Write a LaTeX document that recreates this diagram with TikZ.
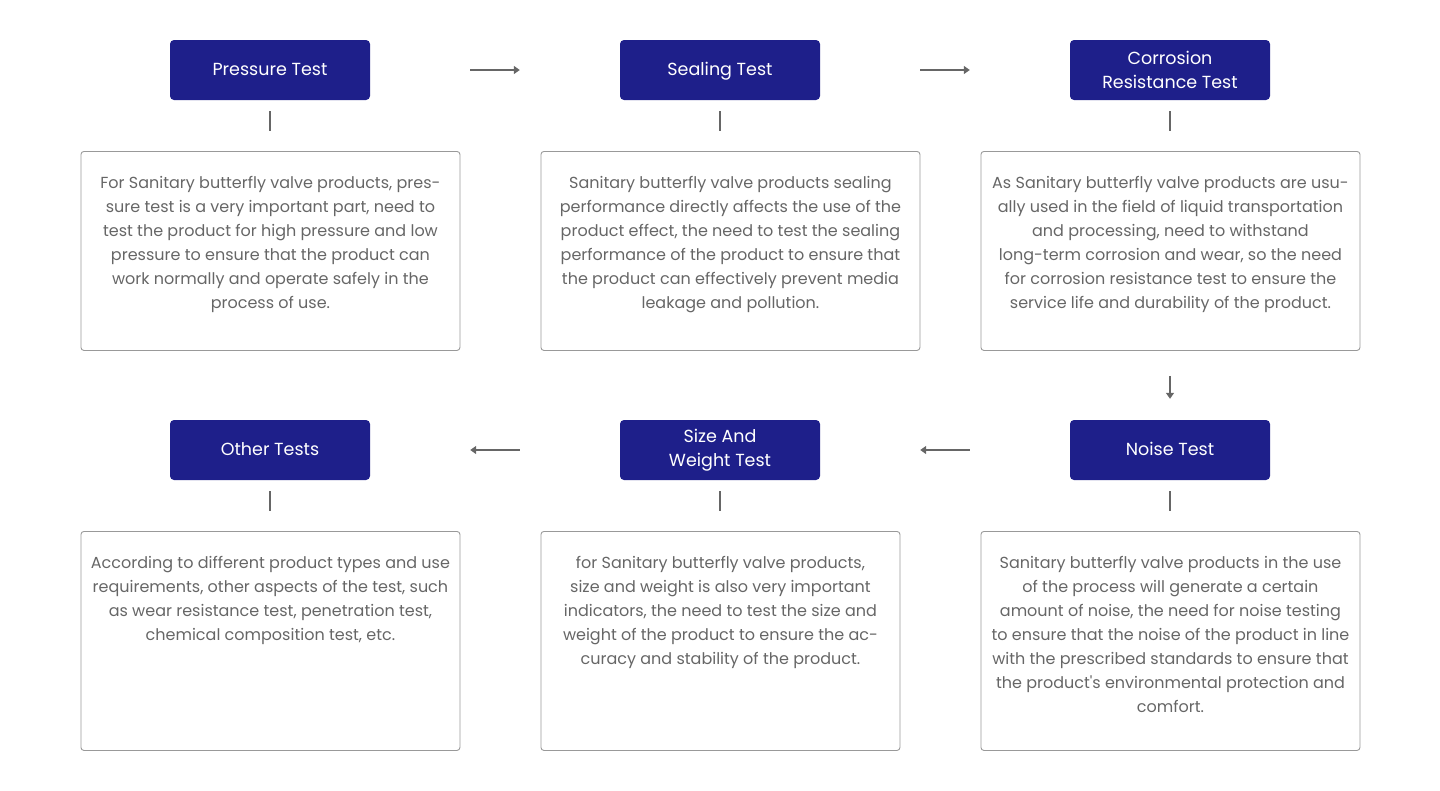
\documentclass[tikz,border=0pt]{standalone}
\usepackage{fontspec}
\setmainfont{Poppins}
\usetikzlibrary{arrows.meta}
\definecolor{hdr}{HTML}{1E1F8A}
\definecolor{txt}{HTML}{666666}
\definecolor{brd}{HTML}{999999}
\definecolor{lin}{HTML}{666666}
\begin{document}
\begin{tikzpicture}[x=1pt,y=-1pt,
  hbox/.style={fill=hdr, rounded corners=4pt, minimum width=200pt, minimum height=60pt, inner sep=0pt, text=white, align=center, font=\fontsize{17.5}{24}\selectfont},
  oneline/.style={text height=12.6pt, text depth=2.6pt},
  dbox/.style={draw=brd, line width=0.9pt, rounded corners=3pt, inner sep=0pt, anchor=north west},
  dtext/.style={text=txt, align=center, anchor=north, inner sep=0pt, font=\fontsize{16}{24}\selectfont},
  tick/.style={draw=lin, line width=1.8pt, shorten <=11pt, shorten >=20pt},
  arr/.style={draw=lin, line width=1.8pt, -{Triangle[width=8pt,length=6pt]}}
]
\useasboundingbox (0,0) rectangle (1440,790);
% headers
\node[hbox, oneline] (h1) at (270,70) {Pressure Test};
\node[hbox, oneline] (h2) at (720,70) {Sealing Test};
\node[hbox] (h3) at (1170,70) {\raisebox{-1pt}{Corrosion}\\\raisebox{-1pt}{Resistance Test}};
\node[hbox, oneline] (h4) at (270,450) {Other Tests};
\node[hbox] (h5) at (720,450) {\raisebox{-1pt}{Size And}\\\raisebox{-1pt}{Weight Test}};
\node[hbox, oneline] (h6) at (1170,450) {Noise Test};
% description boxes
\node[dbox, minimum width=379pt, minimum height=199pt] (d1) at (80.5,151) {};
\node[dbox, minimum width=379pt, minimum height=199pt] (d2) at (540.5,151) {};
\node[dbox, minimum width=379pt, minimum height=199pt] (d3) at (980.5,151) {};
\node[dbox, minimum width=379pt, minimum height=219pt] (d4) at (80.5,531) {};
\node[dbox, minimum width=359pt, minimum height=219pt] (d5) at (540.5,531) {};
\node[dbox, minimum width=379pt, minimum height=219pt] (d6) at (980.5,531) {};
% texts
\node[dtext] (t1) at ([yshift=-25pt]d1.north) {For Sanitary butterfly valve products, pres-\\sure test is a very important part, need to\\test the product for high pressure and low\\pressure to ensure that the product can\\work normally and operate safely in the\\process of use.};
\node[dtext] (t2) at ([yshift=-25pt]d2.north) {Sanitary butterfly valve products sealing\\performance directly affects the use of the\\product effect, the need to test the sealing\\performance of the product to ensure that\\the product can effectively prevent media\\leakage and pollution.};
\node[dtext] (t3) at ([yshift=-25pt]d3.north) {As Sanitary butterfly valve products are usu-\\ally used in the field of liquid transportation\\and processing, need to withstand\\long-term corrosion and wear, so the need\\for corrosion resistance test to ensure the\\service life and durability of the product.};
\node[dtext] (t4) at ([yshift=-25pt]d4.north) {According to different product types and use\\requirements, other aspects of the test, such\\as wear resistance test, penetration test,\\chemical composition test, etc.};
\node[dtext] (t5) at ([yshift=-25pt]d5.north) {for Sanitary butterfly valve products,\\size and weight is also very important\\indicators, the need to test the size and\\weight of the product to ensure the ac-\\curacy and stability of the product.};
\node[dtext] (t6) at ([yshift=-25pt]d6.north) {Sanitary butterfly valve products in the use\\of the process will generate a certain\\amount of noise, the need for noise testing\\to ensure that the noise of the product in line\\with the prescribed standards to ensure that\\the product\textquotesingle s environmental protection and\\comfort.};
% ticks
\draw[tick] (h1.south) -- (h1.south |- d1.north);
\draw[tick] (h2.south) -- (h2.south |- d2.north);
\draw[tick] (h3.south) -- (h3.south |- d3.north);
\draw[tick] (h4.south) -- (h4.south |- d4.north);
\draw[tick] (h5.south) -- (h5.south |- d5.north);
\draw[tick] (h6.south) -- (h6.south |- d6.north);
% arrows
\draw[arr, shorten <=100pt, shorten >=100pt] (h1.east) -- (h2.west);
\draw[arr, shorten <=100pt, shorten >=100pt] (h2.east) -- (h3.west);
\draw[arr, shorten <=25pt, shorten >=21pt] (d3.south -| h3.south) -- (h6.north);
\draw[arr, shorten <=100pt, shorten >=100pt] (h6.west) -- (h5.east);
\draw[arr, shorten <=100pt, shorten >=100pt] (h5.west) -- (h4.east);
\end{tikzpicture}
\end{document}
